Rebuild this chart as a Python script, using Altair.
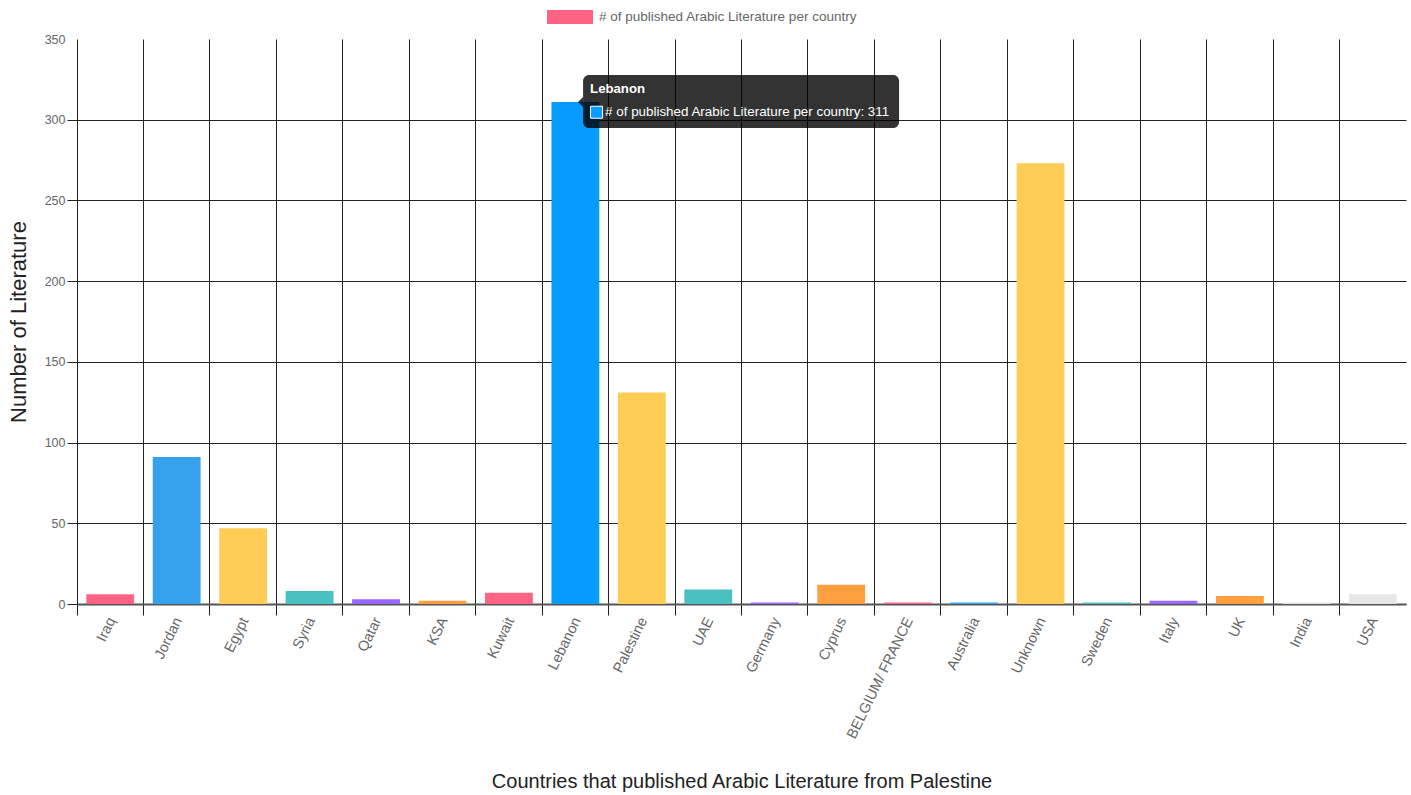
import altair as alt
import pandas as pd

# Publishing countries, in display order
countries = [
    "Iraq", "Jordan", "Egypt", "Syria", "Qatar", "KSA", "Kuwait", "Lebanon",
    "Palestine", "UAE", "Germany", "Cyprus", "BELGIUM/ FRANCE", "Australia",
    "Unknown", "Sweden", "Italy", "UK", "India", "USA",
]
# Number of published works per country
counts = [6, 91, 47, 8, 3, 2, 7, 311, 131, 9, 1, 12, 1, 1, 273, 1, 2, 5, 1, 6]
# Bar fill per country (Lebanon shown in its hover colour)
colors = [
    "#ff6384", "#36a2eb", "#ffcd56", "#4bc0c0", "#9966ff", "#ff9f40",
    "#ff6384", "#059bff", "#ffcd56", "#4bc0c0", "#9966ff", "#ff9f40",
    "#ff6384", "#36a2eb", "#ffcd56", "#4bc0c0", "#9966ff", "#ff9f40",
    "#e6e6e6", "#e6e6e6",
]
y_ticks = [0, 50, 100, 150, 200, 250, 300, 350]

SERIES = "# of published Arabic Literature per country"
X_TITLE = "Countries that published Arabic Literature from Palestine"
Y_TITLE = "Number of Literature"
HOVERED = "Lebanon"
FONT = "Liberation Sans"
GRID = "#222222"

W, H = 1329, 565

df = pd.DataFrame({"country": countries, "count": counts, "color": colors})

tip = df[df["country"] == HOVERED].copy()
tip["title"] = tip["country"]
tip["body"] = tip["count"].map(lambda v: f"{SERIES}: {v}")

legend_df = pd.DataFrame({"country": [countries[0]], "count": [0], "series": [SERIES]})

x_enc = alt.X(
    "country:N",
    sort=countries,
    scale=alt.Scale(paddingInner=0, paddingOuter=0),
    axis=alt.Axis(
        title=X_TITLE,
        bandPosition=0,
        grid=True,
        gridColor=GRID,
        gridWidth=1,
        ticks=True,
        tickColor=GRID,
        tickSize=11,
        tickWidth=1,
        domain=True,
        domainColor="#555555",
        domainWidth=2,
        labelAngle=-64,
        labelAlign="right",
        labelBaseline="middle",
        labelOffset=2,
        labelPadding=3,
        labelFont=FONT,
        labelFontSize=14.5,
        labelColor="#666666",
        labelOverlap=False,
        labelLimit=0,
        titleFont=FONT,
        titleFontSize=20,
        titleFontWeight="normal",
        titleColor="#222222",
        titleY=177,
        titleBaseline="middle",
    ),
)

y_enc = alt.Y(
    "count:Q",
    scale=alt.Scale(domain=[0, 350], nice=False),
    axis=alt.Axis(
        title=Y_TITLE,
        values=y_ticks,
        grid=True,
        gridColor={"condition": {"test": "datum.value >= 350", "value": "transparent"}, "value": GRID},
        gridWidth=1,
        ticks=True,
        tickColor={"condition": {"test": "datum.value >= 350", "value": "transparent"}, "value": GRID},
        tickSize=10,
        domain=False,
        labelFont=FONT,
        labelFontSize=12.5,
        labelColor="#666666",
        labelPadding=2,
        titleFont=FONT,
        titleFontSize=22,
        titleFontWeight="normal",
        titleColor="#222222",
        titleX=-59,
        titleY=H / 2,
        titleBaseline="middle",
    ),
)

bars = alt.Chart(df).mark_bar(width={"band": 0.72}).encode(
    x=x_enc,
    y=y_enc,
    color=alt.Color("color:N", scale=None),
)

legend_layer = alt.Chart(legend_df).mark_point(filled=True, opacity=0).encode(
    x=x_enc,
    y=y_enc,
    color=alt.Color(
        "series:N",
        scale=alt.Scale(domain=[SERIES], range=["#ff6384"]),
        legend=alt.Legend(
            title=None,
            orient="none",
            legendX=470,
            legendY=-45,
            padding=0,
            symbolType="M-1,-0.3043L1,-0.3043L1,0.3043L-1,0.3043Z",
            symbolSize=2116,
            symbolOpacity=1,
            symbolStrokeWidth=0,
            labelFont=FONT,
            labelFontSize=13.5,
            labelColor="#666666",
            labelOffset=6,
            labelLimit=0,
        ),
    ),
)

# Hover tooltip anchored on the highlighted bar
tip_box = alt.Chart(tip).mark_bar(
    width=316, xOffset=165.7, yOffset=-27, y2Offset=26,
    cornerRadius=6, color="black", opacity=0.8,
).encode(x=x_enc, y=y_enc, y2=alt.Y2("count:Q"))

tip_caret = alt.Chart(tip).mark_point(
    shape="M-1,0L0,-1L0,1Z", size=100, filled=True, color="black",
    opacity=0.8, xOffset=7.7, strokeWidth=0,
).encode(x=x_enc, y=y_enc)

tip_title = alt.Chart(tip).mark_text(
    align="left", baseline="middle", dx=14.7, dy=-12.7,
    font=FONT, fontSize=13.2, fontWeight="bold", color="white",
).encode(x=x_enc, y=y_enc, text="title:N")

tip_swatch = alt.Chart(tip).mark_point(
    shape="square", size=144, filled=True, stroke="white", strokeWidth=1,
    opacity=1, xOffset=21.2, yOffset=10.3,
).encode(x=x_enc, y=y_enc, fill=alt.Fill("color:N", scale=None))

tip_body = alt.Chart(tip).mark_text(
    align="left", baseline="middle", dx=29.7, dy=10.3,
    font=FONT, fontSize=13.4, color="white",
).encode(x=x_enc, y=y_enc, text="body:N")

chart = (
    alt.layer(bars, legend_layer, tip_box, tip_caret, tip_title, tip_swatch, tip_body)
    .properties(
        width=W,
        height=H,
        autosize=alt.AutoSizeParams(type="none"),
        padding={"left": 77, "top": 39, "right": 5, "bottom": 191},
        background="white",
    )
    .configure_view(stroke=None)
)

chart.save("out.html", embed_options={"renderer": "svg", "actions": False})
